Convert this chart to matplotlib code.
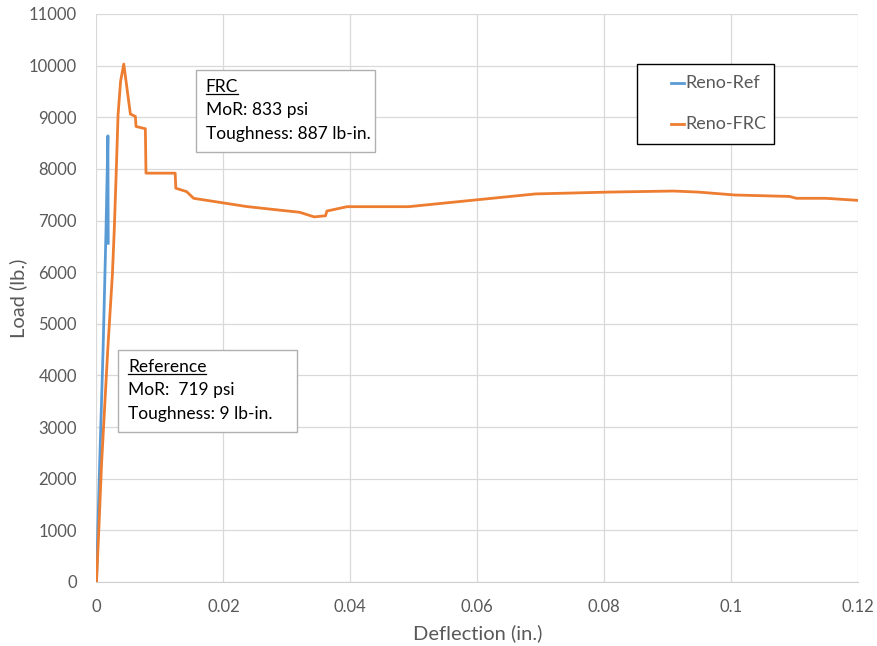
import numpy as np
import matplotlib.pyplot as plt
from matplotlib.lines import Line2D
from matplotlib.patches import Rectangle

plt.rcParams['font.family'] = ['Lato', 'DejaVu Sans']

# data
ref_defl = [0.0, 0.0002, 0.0005, 0.00105, 0.0015, 0.0018, 0.00182, 0.00185]
ref_load = [0, 990, 2290, 4550, 6815, 8640, 7600, 6560]

frc_defl = [0.0, 0.00036, 0.0008, 0.0018, 0.0025, 0.0028, 0.0031, 0.0034, 0.0038, 0.0043,
            0.00534, 0.00613, 0.00623, 0.0077, 0.0078, 0.0124, 0.0125, 0.0142,
            0.0153, 0.0237, 0.0289, 0.0320, 0.0343, 0.0361, 0.0363, 0.0395,
            0.0492, 0.0606, 0.0692, 0.0806, 0.0909, 0.0949, 0.1006, 0.1092,
            0.1103, 0.1149, 0.1200]
frc_load = [0, 990, 2290, 4550, 5940, 6815, 7900, 9050, 9700, 10030,
            9062, 9015, 8821, 8777, 7917, 7917, 7625, 7560,
            7430, 7270, 7200, 7160, 7070, 7092, 7183, 7268,
            7268, 7409, 7515, 7550, 7571, 7550, 7494, 7466,
            7430, 7430, 7390]

series_names = ['Reno-Ref', 'Reno-FRC']
colors = ['#5B9BD5', '#ED7D31']

x_ticks = [0, 0.02, 0.04, 0.06, 0.08, 0.1, 0.12]
x_labels = ['0', '0.02', '0.04', '0.06', '0.08', '0.1', '0.12']
y_ticks = np.arange(0, 11001, 1000)

W, H = 878, 646


def fx(px):
    return px / W


def fy(py):
    return 1 - py / H


fig = plt.figure(figsize=(8.78, 6.46), dpi=100)
ax = fig.add_axes([0.1099, 0.0991, 0.8673, 0.8793])

ax.plot(ref_defl, ref_load, color=colors[0], lw=2.0, zorder=3)
ax.plot(frc_defl, frc_load, color=colors[1], lw=2.0, zorder=4)

ax.set_xlim(0, 0.12)
ax.set_ylim(0, 11000)
ax.set_xticks(x_ticks)
ax.set_xticklabels(x_labels)
ax.set_yticks(y_ticks)
ax.grid(True, color='#d9d9d9', lw=0.9)
ax.set_axisbelow(True)
for s in ['top', 'right', 'left']:
    ax.spines[s].set_visible(False)
ax.spines['bottom'].set_color('#d0d0d0')
ax.tick_params(length=0, labelsize=12, labelcolor='#595959')
ax.tick_params(axis='y', pad=14)
ax.tick_params(axis='x', pad=12)

ax.set_xlabel('Deflection (in.)', fontsize=14.5, color='#595959', labelpad=7)
ax.set_ylabel('Load (lb.)', fontsize=14.5, color='#595959', labelpad=1)

# annotation boxes (data coords)
notes = [
    ((0.01568, 8327, 0.0439, 9915), 0.0172, [9586, 9140, 8675],
     ['FRC', 'MoR: 833 psi', 'Toughness: 887 lb-in.']),
    ((0.00339, 2905, 0.0316, 4493), 0.00496, [4163, 3718, 3253],
     ['Reference', 'MoR:  719 psi', 'Toughness: 9 lb-in.']),
]
titles = []
for (x0, y0, x1, y1), tx, tys, lines in notes:
    ax.add_patch(Rectangle((x0, y0), x1 - x0, y1 - y0, fc='white', ec='#b0b0b0',
                           lw=1, zorder=5))
    for ty, s in zip(tys, lines):
        t = ax.text(tx, ty, s, fontsize=12.5, va='center', ha='left', zorder=6)
    titles.append(ax.texts[-3])

fig.canvas.draw()
for t in titles:
    bb = t.get_window_extent()
    uy = (bb.y0 + 1.0) / fig.bbox.height
    fig.add_artist(Line2D([bb.x0 / fig.bbox.width, bb.x1 / fig.bbox.width], [uy, uy],
                          color='black', lw=0.9, transform=fig.transFigure, zorder=7))

# legend box
fig.add_artist(Rectangle((fx(637), fy(144)), fx(774) - fx(637), fy(64) - fy(144),
                         fc='white', ec='black', lw=1.0, transform=fig.transFigure,
                         zorder=8))
for name, c, py in zip(series_names, colors, [83, 124]):
    fig.add_artist(Line2D([fx(671), fx(684)], [fy(py), fy(py)], color=c, lw=2.0,
                          transform=fig.transFigure, zorder=9))
    fig.text(fx(685), fy(py), name, fontsize=13, color='#595959', va='center',
             ha='left', zorder=9)

fig.savefig('out.png', dpi=100)
